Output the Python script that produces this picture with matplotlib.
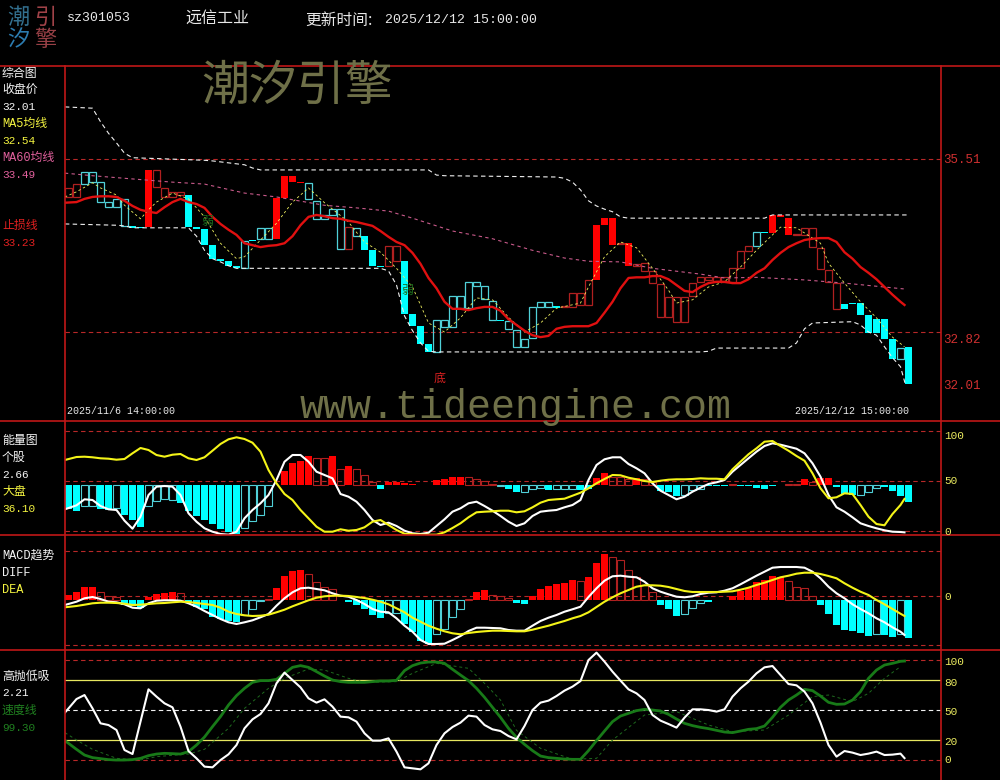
import numpy as np
import matplotlib
matplotlib.use("Agg")
import matplotlib.pyplot as plt
from matplotlib.lines import Line2D

# ---------- main panel ----------
body_top = [35.06,35.12,35.31,35.31,35.15,34.84,34.89,34.89,34.47,34.45,35.34,35.34,35.06,35.00,35.00,34.95,34.45,34.42,34.17,33.96,33.92,33.85,34.23,34.25,34.44,34.44,34.90,35.25,35.25,35.15,35.14,34.86,34.64,34.73,34.73,34.45,34.44,34.31,34.09,33.85,34.16,34.16,33.92,33.10,32.91,32.63,33.01,33.01,33.38,33.38,33.60,33.60,33.54,33.30,33.01,32.99,32.85,32.71,33.21,33.29,33.29,33.22,33.22,33.43,33.43,33.63,34.48,34.59,34.59,34.20,34.20,33.88,33.89,33.77,33.57,33.36,33.36,33.36,33.58,33.67,33.67,33.67,33.67,33.81,34.08,34.16,34.37,34.37,34.64,34.64,34.59,34.34,34.44,34.44,34.13,33.78,33.58,33.26,33.27,33.27,33.08,33.02,33.02,32.71,32.57,32.59]
body_bot = [34.92,34.92,35.12,35.15,34.84,34.76,34.76,34.47,34.44,34.44,34.45,35.07,34.92,34.92,34.95,34.45,34.42,34.17,33.96,33.92,33.85,33.81,33.81,34.23,34.27,34.27,34.27,34.90,35.15,35.14,34.89,34.58,34.58,34.64,34.11,34.11,34.31,34.09,33.85,33.83,33.85,33.92,33.10,32.91,32.63,32.51,32.51,32.90,32.90,33.19,33.19,33.54,33.33,33.01,32.99,32.87,32.59,32.59,32.73,33.21,33.21,33.19,33.21,33.21,33.24,33.24,33.63,34.48,34.17,34.19,33.85,33.85,33.77,33.58,33.05,33.05,32.98,32.98,33.38,33.60,33.63,33.61,33.60,33.60,33.81,34.08,34.16,34.36,34.36,34.61,34.33,34.33,34.33,34.14,33.80,33.60,33.18,33.18,33.26,33.08,32.80,32.80,32.71,32.40,32.40,32.01]
body_kind = "rrccccccCCRrrrrCCCCCCCcCccRRRRcccccrcCCCrrCCCCccccccccCccccccCrrrrRRRrRrrrrrrrrrrrrrrrcCRRRrrrrrrCCCCCCCcC"

stop_line = [34.83,34.84,34.89,34.92,34.93,34.93,34.92,34.86,34.78,34.72,34.69,34.67,34.76,34.84,34.89,34.84,34.81,34.75,34.61,34.50,34.41,34.33,34.20,34.17,34.14,34.16,34.17,34.20,34.31,34.48,34.61,34.64,34.62,34.59,34.58,34.55,34.53,34.50,34.47,34.39,34.30,34.22,34.17,34.05,33.88,33.66,33.50,33.29,33.18,33.18,33.16,33.19,33.21,33.21,33.15,33.02,32.93,32.84,32.77,32.74,32.76,32.87,32.90,32.91,32.91,32.91,32.96,33.12,33.29,33.50,33.66,33.67,33.67,33.69,33.69,33.64,33.55,33.46,33.44,33.52,33.58,33.60,33.60,33.58,33.58,33.64,33.74,33.81,33.94,34.05,34.14,34.20,34.25,34.27,34.28,34.28,34.22,34.06,33.96,33.83,33.74,33.64,33.52,33.40,33.29,33.24]

ma5_idx = [-0.45,1,3,4,6,7,9,10,11,13,15,17,19,21,22,24,26,28,30,32,35,36,37,39,41,43,45,47,49,51,53,55,57,59,61,64,65,67,69,71,73,75,76,78,80,82,84,86,88,89,91,94,95,97,99,101,103,104.5]
ma5_val = [34.92,35.00,35.14,35.06,34.95,34.79,34.58,34.72,34.84,34.98,34.89,34.61,34.20,33.96,33.99,34.25,34.51,34.84,35.06,34.83,34.53,34.37,34.22,34.06,33.81,33.52,32.96,32.82,33.04,33.35,33.32,33.05,32.82,32.96,33.19,33.27,33.52,33.99,34.22,34.13,33.81,33.47,33.27,33.32,33.52,33.60,33.83,34.09,34.33,34.45,34.44,34.20,33.89,33.58,33.29,33.04,32.74,32.59]

ma60_idx = [-0.45,3,7,13,17,22,26,32,36,40,43,48,53,58,62,65,69,73,79,82,86,92,97,104.4]
ma60_val = [35.29,35.25,35.21,35.15,35.12,34.98,34.92,34.79,34.75,34.70,34.59,34.39,34.27,34.09,33.97,33.92,33.91,33.81,33.72,33.66,33.67,33.63,33.58,33.49]

upper_idx = [-0.45,3,4,5,6,7,8,17,18,20,22,23,24,45,46,47,61,62,63,64,65,66,67,68,69,70,87,88,104.8]
upper_val = [36.32,36.30,36.09,35.91,35.76,35.60,35.53,35.49,35.48,35.45,35.42,35.37,35.34,35.34,35.26,35.25,35.23,35.21,35.15,35.03,34.86,34.78,34.73,34.69,34.61,34.59,34.59,34.64,34.64]
lower_idx = [-0.45,6,7,8,15,16,17,18,19,20,21,39,40,41,42,43,44,45,46,79,80,81,90,91,92,93,98,99,100,101,102,103,104,104.6]
lower_val = [34.50,34.48,34.47,34.44,34.44,34.31,34.09,33.96,33.91,33.85,33.81,33.81,33.77,33.55,33.07,32.84,32.65,32.52,32.51,32.51,32.52,32.57,32.57,32.65,32.87,32.96,32.98,32.93,32.82,32.77,32.59,32.42,32.28,32.01]
price_levels = [35.51, 32.82]

# ---------- energy panel ----------
energy_bars = [-24,-26,-21,-21,-24,-25,-23,-30,-35,-42,-21,-16,-14,-15,-18,-26,-31,-35,-39,-44,-47,-49,-43,-36,-30,-21,0,14,22,24,29,27,27,29,16,19,16,10,3,-4,3,3,2,1,0,0,5,6,8,8,8,6,4,1,-1,-4,-7,-7,-4,-3,-5,-4,-4,-4,-5,-4,7,12,8,8,6,7,6,3,-6,-7,-11,-10,-5,-4,-1,-1,-1,1,-1,-1,-3,-4,-1,0,1,1,6,3,7,7,-2,-9,-10,-10,-7,-3,-2,-6,-11,-17]
energy_kind = "FFHHFFHFFFHHHHFFFFFFFFHHHHFFFFFHHFHFHHHFFFFFFFFFFFHHHHHFFHHHFHHHFFFFHHHFHHFFFHHHFFFHFFFFFFHHFHFFFFFHHHFFFF"
energy_white = [25.7,29.7,35.7,35,29,25.7,25,14.3,6.3,18.3,40,48.3,49,48.3,40,21.7,13.3,6.7,3.3,1,0.3,3.3,16.7,25,31.7,40,55,73.3,80,80,73.3,63.3,60,56.7,41,38.3,33.3,25,15,10,12.3,9,4.3,1.7,1,2.3,9,15.7,23.3,26.7,31.7,33.3,29,24.3,19,13.3,9,11.7,19,23.3,24.3,25,27.7,30,35,55,70,75.7,77.7,77.7,71,66.7,61.7,51.7,44.3,40,35.7,38.3,43.3,47.3,51,52.7,55,63.3,70,76.7,83.3,89,91.7,90.3,88.3,86.3,81.7,71.7,58.3,40,27.7,23.3,17.7,11.7,9,6.7,4.7,3.3,3,2.66]
energy_yellow = [75,78,78.3,77.7,76.7,76.3,75.3,76,81.7,87,85,80,78.3,80.3,81,76.7,75,77.7,84.3,91,95.7,97.7,96,92.3,83.3,65,51.7,41,35,25,16.7,8.3,3.3,3.3,5.7,4.3,5,7.7,13.3,15,10,5,1.3,0.7,0.3,0.3,0.3,2.7,7,11.7,17.7,22.7,23.3,23.7,24.3,24.3,22.7,23.7,27.7,32.3,35,35.7,36.3,39.3,42.3,46.7,51.7,56,60,59.7,57.3,55.7,54,53,54.3,55.3,55.7,55.7,56,56.7,56.3,56.3,55.7,65.7,73.3,80.7,86.7,93.3,94,89,84.3,79,74.3,61.7,46.7,36.7,37.7,41.7,41,30,18.3,11,9.7,21,30,36.1]
energy_base = 50
energy_levels = [104.5, 54, 4.5]

# ---------- MACD panel ----------
macd_bars = [5,8,13,13,8,4,3,-5,-6,-8,3,6,7,8,7,-2,-7,-9,-17,-19,-21,-22,-15,-9,-1,1,12,24,29,30,26,18,13,11,0,-2,-5,-9,-15,-18,-13,-13,-24,-32,-41,-44,-34,-29,-17,-9,1,8,10,5,4,2,-3,-4,4,11,14,16,17,20,19,23,37,46,43,40,30,23,15,8,-5,-9,-16,-14,-8,-3,-2,0,0,4,9,12,18,20,24,23,19,13,12,4,-5,-14,-25,-30,-31,-33,-36,-34,-35,-37,-34,-38]
macd_kind = "FFFFHHHFFFFFFFHFFFFFFFHHHHFFFFHHHHHFFFFFHHFFFFHHHHHFFHHHFFFFFFFFHFFFHHHHHHFFFHHHFFFFFFFFFFHHHHFFFFFFFHFFHF"
diff_line = [-5,-1.7,1.7,3,1,-1.7,-2.3,-4.3,-7.7,-8.3,-3.3,-0.7,-0.3,-0.3,-0.7,-3.3,-6.7,-11,-15,-19,-22.3,-24,-22.3,-20.3,-17.3,-14,-5.7,1.7,7.7,11.7,12.3,11,9.7,6.7,4.3,3.3,0,-4,-9,-11.7,-12.3,-18.3,-25.7,-31.7,-40,-44,-44,-43.7,-40,-36,-31,-27.7,-27.7,-28,-28.3,-30,-30.7,-30.7,-25.7,-21,-17.7,-15,-11.7,-9.3,-6.7,3,11.7,19.3,23.7,24.3,23.3,22.7,18.3,11.7,8.3,5.7,3.3,2.7,3.7,6,7.3,7.7,9.3,11.7,15.7,20,24.3,28.3,32.3,33,33,33,32.3,28.3,21.7,13.3,6.7,1.7,-4.3,-9,-13.3,-18.3,-22.3,-27.3,-31.7,-35]
dea_line = [-7.3,-6,-4.7,-3.3,-2.7,-2.7,-3,-3.7,-5,-4.7,-4,-3.3,-3,-2.3,-1.7,-2,-3,-4,-5,-7.7,-11.7,-14,-15.3,-16,-15.7,-14.7,-12.3,-9.7,-6.3,-3.3,-0.3,2.3,3.7,4.3,4.3,4,3,2,0.3,-1.7,-4.3,-8.3,-12.3,-17.7,-21.7,-25.7,-28.7,-31.3,-33.3,-34.3,-33,-32,-31.3,-30.7,-30.7,-31,-31.3,-31.3,-29.7,-27.7,-25.7,-23.3,-21,-18.3,-16,-12.3,-7,-1.7,2.7,6.7,10,13.3,14.7,14.7,14.3,13,11,9,8,8,8,8,8.3,8.7,10.3,12.3,15,17.3,20,22.7,24.3,26.3,27.3,27.3,26,24,21.7,16.7,12.3,8.3,5,0,-4.3,-9,-13.7,-16]
macd_levels = [49, 4.3, -45.3]

# ---------- high-low panel ----------
hl_white = [47.7,61.3,65.3,52,37,35.3,30.3,10.3,6.3,38.7,71,63.7,57,53,33.7,9.3,2,-6.3,-7,0.3,6,15.3,32,41,46.3,57,77,87.7,80.3,73,62,57.7,61,53.7,43.7,43,38.7,27,19.7,19.7,22,8.7,-7,-8,-9,-3,15.3,27,33.3,37.7,44.7,43.7,35.3,31,29.3,24.3,21,34.3,50.3,57.7,59.7,64.3,69.7,73.7,79.3,100.3,107.7,98.7,88.7,79.7,71,67,60.3,45.3,39.7,36.3,32.7,42.7,51,51,50.3,48.7,51,63.7,72,78.7,87,93,94.3,85.3,76.3,75,68.7,57,37.7,15.3,3.7,9.3,7.7,5.3,6.7,8.7,5.3,5.7,6.7,2.21]
hl_green = [19.7,11,5.3,2.7,1.7,0.7,0.3,0.3,0.7,2,4.7,6.3,7,6.7,6.3,8.7,15.3,23.3,33.7,43.7,55.3,64.7,72,78,79.7,79.7,81,87,93,94.7,93,88.7,84.3,80.3,78.7,78,78,78,78.7,79.3,79.3,80,89.7,94.7,97.3,98.3,98.3,97,91,85.3,79.7,72,63,53,43,32,23,16,9.7,4.3,2.7,2,1.3,1,1,9.7,19.7,29.3,38.7,44.3,47,49.7,51,50.3,49.3,46,41.3,37,34.7,33,31.7,30,28.3,27.7,29.3,31,31.7,34.3,43,53,60.3,65.3,71,69.7,64.3,58,56,56.3,60.3,68.7,82,90.3,95.3,97,99,99.3]
hl_sig_idx = [-0.45,1,3,6,9,11,15,17,20,22,25,27,30,32,35,37,41,43,46,50,52,54,56,59,63,66,68,72,76,80,83,87,90,93,95,98,100,102,104]
hl_sig_val = [27.7,20.3,11,2,0.3,3.7,6.3,11,32,52,72,82,91.3,90.3,82,78,78.7,87,97,92,77,60.3,30,12,1,2,20.3,45.3,48.7,35.3,28.7,30.3,45.3,63.7,65.3,58.7,67,82,93.7]
hl_red_levels = [100, 0]
hl_yellow_levels = [80, 20]
hl_white_levels = [50]

# ---------- text ----------
main_labels = [("综合图",74,"w"),("收盘价",90,"w"),("32.01",107,"w"),("MA5均线",124,"y"),("32.54",141,"y"),("MA60均线",158,"p"),("33.49",175,"p"),("止损线",226,"r"),("33.23",243,"r")]
energy_labels = [("能量图",441,"w"),("个股",458,"w"),("2.66",475,"w"),("大盘",492,"y"),("36.10",509,"y")]
macd_labels = [("MACD趋势",556,"w"),("DIFF",573,"w"),("DEA",590,"y")]
hl_labels = [("高抛低吸",677,"w"),("2.21",693,"w"),("速度线",711,"g"),("99.30",728,"g")]
right_ticks = [("100",436),("50",481),("0",532),("0",597),("100",662),("80",683),("50",712),("20",742),("0",760)]
price_ticks = [("35.51",160),("32.82",340),("32.01",386)]

BLACK = "#000000"
RED_F, RED_H = "#ff0000", "#b02020"
CYAN_F, CYAN_H = "#00ffff", "#50d0d8"
GRID = "#b82828"
FRAME = "#c01818"
YEL = "#f4f418"
OLIVE = "#6f7048"
COL = {"w": "#f4f4f4", "y": "#f4f440", "p": "#e0609c", "r": "#e02020", "g": "#208020"}
MONO = ["Liberation Mono", "Noto Sans CJK SC", "DejaVu Sans"]
CJK = ["Noto Sans CJK SC", "DejaVu Sans"]
W, H = 1000, 780
XL, XR = 64.5, 941

fig = plt.figure(figsize=(10, 7.8), dpi=100, facecolor=BLACK)


def line_x(series):
    # the indicator lines start and stop half a bar left of the first and last bar centres
    x = np.arange(len(series), dtype=float)
    x[0], x[-1] = -0.45, x[-1] - 0.5
    return x


def panel(y0, y1, top, bottom):
    ax = fig.add_axes([XL / W, 1 - y1 / H, (XR - XL) / W, (y1 - y0) / H], facecolor=BLACK)
    ax.set_xlim(-0.5, (XR - 68.5) / 8)
    ax.set_ylim(bottom, top)
    ax.set_xticks([])
    ax.set_yticks([])
    for s in ax.spines.values():
        s.set_visible(False)
    return ax


def text(x, y, s, color, size=8.6, family=CJK, ha="left", **kw):
    fig.text(x / W, 1 - y / H, s, color=color, fontsize=size, family=family, ha=ha, va="center", zorder=6, **kw)


def hist(ax, vals, kinds, base):
    x = np.arange(len(vals))
    for xi, v, k in zip(x, vals, kinds):
        if v == 0:
            continue
        up = v > 0
        if k == "F":
            c = RED_F if up else CYAN_F
            ax.bar(xi, v, bottom=base, width=0.82, color=c, linewidth=0, zorder=2)
        else:
            c = RED_H if up else CYAN_H
            ax.bar(xi, v, bottom=base, width=0.78, facecolor="none", edgecolor=c, linewidth=0.8, zorder=2)


# main
ax1 = panel(66, 421, 36.956, 31.436)
for lv in price_levels:
    ax1.axhline(lv, color=GRID, lw=0.8, dashes=(4, 3), zorder=1)
for i, (t, b, k) in enumerate(zip(body_top, body_bot, body_kind)):
    h = t - b
    if k == "R":
        ax1.bar(i, h, bottom=b, width=0.82, color=RED_F, linewidth=0, zorder=2)
    elif k == "C":
        ax1.bar(i, h, bottom=b, width=0.82, color=CYAN_F, linewidth=0, zorder=2)
    else:
        ax1.bar(i, h, bottom=b, width=0.78, facecolor="none", edgecolor=RED_H if k == "r" else CYAN_H, linewidth=0.9, zorder=2)
ax1.plot(upper_idx, upper_val, color="#f0f0f0", lw=0.8, dashes=(4, 3), zorder=3)
ax1.plot(lower_idx, lower_val, color="#f0f0f0", lw=0.8, dashes=(4, 3), zorder=3)
ax1.plot(ma60_idx, ma60_val, color="#c85a8a", lw=0.8, dashes=(3, 3), zorder=3)
ax1.plot(ma5_idx, ma5_val, color="#f0f060", lw=0.6, dashes=(3, 3), zorder=3)
ax1.plot(line_x(stop_line), stop_line, color="#e01010", lw=1.7, zorder=4)

# energy
ax2 = panel(421, 535, 114, 0)
for lv in energy_levels:
    ax2.axhline(lv, color=GRID, lw=0.8, dashes=(4, 3), zorder=1)
hist(ax2, energy_bars, energy_kind, energy_base)
ax2.plot(line_x(energy_white), energy_white, color="#ffffff", lw=1.5, zorder=4)
ax2.plot(line_x(energy_yellow), energy_yellow, color=YEL, lw=1.5, zorder=5)

# MACD
ax3 = panel(535, 650, 65, -50)
for lv in macd_levels:
    ax3.axhline(lv, color=GRID, lw=0.8, dashes=(4, 3), zorder=1)
hist(ax3, macd_bars, macd_kind, 0)
ax3.plot(line_x(diff_line), diff_line, color="#ffffff", lw=1.5, zorder=4)
ax3.plot(line_x(dea_line), dea_line, color=YEL, lw=1.5, zorder=5)

# high-low
ax4 = panel(650, 780, 110.33, -19.67)
for lv in hl_red_levels:
    ax4.axhline(lv, color=GRID, lw=0.8, dashes=(4, 3), zorder=1)
for lv in hl_yellow_levels:
    ax4.axhline(lv, color="#e8e860", lw=0.9, zorder=1)
for lv in hl_white_levels:
    ax4.axhline(lv, color="#f0f0f0", lw=0.8, dashes=(4, 3), zorder=1)
ax4.plot(hl_sig_idx, hl_sig_val, color="#1e6a1e", lw=0.7, dashes=(3, 3), zorder=2)
ax4.plot(line_x(hl_green), hl_green, color="#187a18", lw=2.0, zorder=3)
ax4.plot(line_x(hl_white), hl_white, color="#ffffff", lw=1.5, zorder=4)

# frame
for y in (66, 421, 535, 650):
    fig.add_artist(Line2D([0, 1], [1 - y / H] * 2, color=FRAME, lw=1.2, zorder=5))
for x in (XL, XR):
    fig.add_artist(Line2D([x / W] * 2, [0, 1 - 66 / H], color=FRAME, lw=1.2, zorder=5))

# header
text(67, 18, "sz301053", "#e8e8e8", size=9.5, family=MONO)
text(185, 18, "远信工业", "#e8e8e8", size=11.5)
text(305, 20, "更新时间:", "#e8e8e8", size=11.3)
text(385, 20, "2025/12/12 15:00:00", "#e8e8e8", size=9.5, family=MONO)
for s, x, y, c in [("潮", 18, 17, "#33708f"), ("引", 45, 17, "#a04248"), ("汐", 18, 40, "#2c7cb0"), ("擎", 45, 40, "#984046")]:
    text(x, y, s, c, size=16, ha="center")

# watermarks
text(201, 86, "潮汐引擎", OLIVE, size=34.5)
text(300, 407, "www.tideengine.com", OLIVE, size=28.8, family=MONO)
text(67, 411, "2025/11/6 14:00:00", "#e8e8e8", size=7.2, family=MONO)
text(795, 411, "2025/12/12 15:00:00", "#e8e8e8", size=7.2, family=MONO)
text(440, 378, "底", "#d82020", size=8.6, ha="center")
text(207, 221, "弱", "#1c6c1c", size=8.6, ha="center")
text(407, 290, "弱", "#1c6c1c", size=8.6, ha="center")

for group in (main_labels, energy_labels, macd_labels, hl_labels):
    for s, y, c in group:
        numeric = s.replace(".", "").isdigit()
        text(2, y, s, COL[c], size=8 if numeric else 8.6, family=MONO)
for s, y in right_ticks:
    text(944, y, s, "#ecec60", size=8, family=MONO)
for s, y in price_ticks:
    text(943, y, s, "#d03030", size=9, family=MONO)

fig.savefig("out.png", dpi=100, facecolor=BLACK)
